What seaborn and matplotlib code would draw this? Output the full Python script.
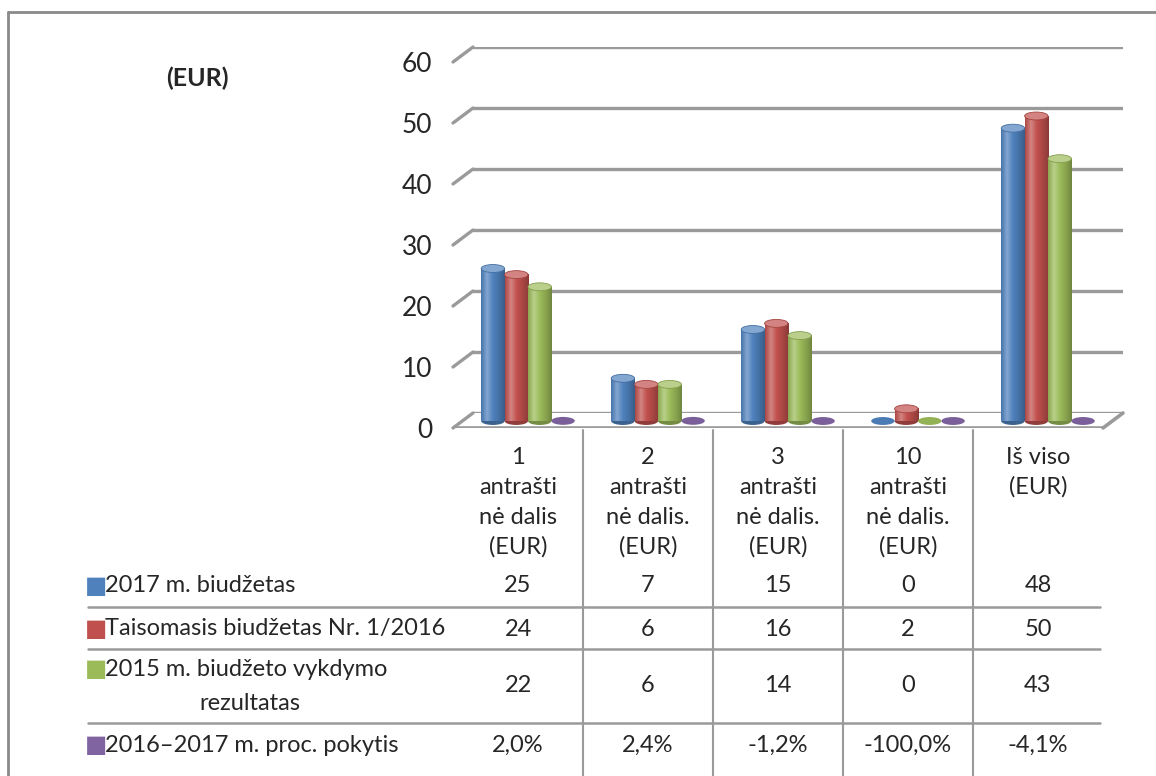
import numpy as np
import pandas as pd
import matplotlib
matplotlib.use("Agg")
import matplotlib.pyplot as plt
import matplotlib.transforms as mtransforms
import seaborn as sns
from matplotlib.patches import Ellipse, ConnectionPatch
from matplotlib.colors import LinearSegmentedColormap, to_rgb

# duomenys
categories = ["1\nantrašti\nnė dalis\n(EUR)",
              "2\nantrašti\nnė dalis.\n(EUR)",
              "3\nantrašti\nnė dalis.\n(EUR)",
              "10\nantrašti\nnė dalis.\n(EUR)",
              "Iš viso\n(EUR)"]
series = ["2017 m. biudžetas",
          "Taisomasis biudžetas Nr. 1/2016",
          "2015 m. biudžeto vykdymo\nrezultatas",
          "2016–2017 m. proc. pokytis"]
biudzetas_2017 = [25, 7, 15, 0, 48]
taisomasis_2016 = [24, 6, 16, 2, 50]
rezultatas_2015 = [22, 6, 14, 0, 43]
pokytis_proc = [2.0, 2.4, -1.2, -100.0, -4.1]
yticks = [0, 10, 20, 30, 40, 50, 60]
colors = ["#4F81BD", "#C0504D", "#9BBB59", "#8064A2"]
grid_color = "#9a9a9a"

sns.set_style("white")
plt.rcParams["font.family"] = ["Lato", "DejaVu Sans"]

W, H = 1156, 776
fig = plt.figure(figsize=(W / 100, H / 100), dpi=100)


def px_rect(left, base, width, height):
    # pikseliai (y zemyn) -> figuros dalys
    return [left / W, (H - base) / H, width / W, height / H]


# galine plokstuma (tinklelis), vidurine (stulpeliai), priekine (zymes)
bg = fig.add_axes(px_rect(473, 413, 650, 366))
ax = fig.add_axes(px_rect(463, 421, 650, 366))
fr = fig.add_axes(px_rect(453, 428, 650, 366))
ov = fig.add_axes([0, 0, 1, 1], zorder=-5)
ov.set_xlim(0, W)
ov.set_ylim(H, 0)
ov.axis("off")

for a in (bg, ax, fr):
    a.set_xlim(-0.5, len(categories) - 0.5)
    a.set_ylim(0, 60)
    a.patch.set_alpha(0)
    sns.despine(ax=a, left=True, bottom=True)
    a.set_xticks([])

bg.set_yticks(yticks)
bg.set_yticklabels([])
bg.tick_params(axis="y", length=0)
for v in yticks:
    bg.axhline(v, color=grid_color, lw=2.4, zorder=0)
    con = ConnectionPatch(xyA=(-0.5, v), coordsA=fr.transData,
                          xyB=(-0.5, v), coordsB=bg.transData,
                          color=grid_color, lw=2.4)
    fig.add_artist(con)

# grindys
fr.axhline(0, color=grid_color, lw=2.6)
fig.add_artist(ConnectionPatch(xyA=(len(categories) - 0.5, 0), coordsA=fr.transData,
                               xyB=(len(categories) - 0.5, 0), coordsB=bg.transData,
                               color=grid_color, lw=2.6))

fr.set_yticks(yticks)
fr.set_yticklabels([str(v) for v in yticks], fontsize=19)
fr.tick_params(axis="y", length=0, pad=15)

# stulpeliai
df = pd.DataFrame({
    "kategorija": np.tile(categories, 4),
    "serija": np.repeat(series, len(categories)),
    "reiksme": biudzetas_2017 + taisomasis_2016 + rezultatas_2015
               + [p / 100 for p in pokytis_proc],
})
sns.barplot(data=df, x="kategorija", y="reiksme", hue="serija", palette=colors,
            saturation=1, width=0.72, legend=False, ax=ax)
ax.set_xlabel("")
ax.set_ylabel("")
ax.set_yticks([])
ax.set_xticks([])

cap_h = 1.3
for cont, col in zip(ax.containers, colors):
    c = np.array(to_rgb(col))
    light = c + (1 - c) * 0.3
    cmap = LinearSegmentedColormap.from_list(
        "cyl", [c * 0.9, light, c, c * 0.88, c * 0.72])
    for patch in cont:
        x0, w, h = patch.get_x(), patch.get_width(), patch.get_height()
        top = max(h, 0)
        if h > 0.05:
            ax.add_patch(Ellipse((x0 + w / 2, 0), w, cap_h, facecolor=c * 0.75,
                                 edgecolor="none", clip_on=False, zorder=2))
            ax.imshow(np.linspace(0, 1, 60)[None, :], extent=(x0, x0 + w, 0, h),
                      cmap=cmap, aspect="auto", zorder=3)
            ax.add_patch(Ellipse((x0 + w / 2, top), w, cap_h, facecolor=light,
                                 edgecolor=c * 0.85, lw=0.6, clip_on=False, zorder=4))
        else:
            ax.add_patch(Ellipse((x0 + w / 2, top), w, cap_h, facecolor=c * 0.95,
                                 edgecolor="none", clip_on=False, zorder=4))
        patch.set_visible(False)
ax.set_xlim(-0.5, len(categories) - 0.5)
ax.set_ylim(0, 60)

# lentele
tx = mtransforms.blended_transform_factory(fr.transData, ov.transData)
line_col = "#9a9a9a"
fs = 17
for i, cat in enumerate(categories):
    for k, part in enumerate(cat.split("\n")):
        ov.text(i, 457 + 30 * k, part, transform=tx, ha="center", va="center",
                fontsize=fs)
for i in range(len(categories) - 1):
    ov.plot([i + 0.5, i + 0.5], [430, H], transform=tx, color=line_col, lw=1.5)

row_y = [586, 629, 686, 745]
line_y = [607, 649, 723]
for y in line_y:
    ov.plot([88, 1100], [y, y], color=line_col, lw=1.8)

table_vals = [[str(v) for v in biudzetas_2017],
              [str(v) for v in taisomasis_2016],
              [str(v) for v in rezultatas_2015],
              [f"{p:.1f}%".replace(".", ",") for p in pokytis_proc]]
for r, (name, col, vals) in enumerate(zip(series, colors, table_vals)):
    parts = name.split("\n")
    y = row_y[r]
    if len(parts) == 1:
        ov.text(105, y, parts[0], ha="left", va="center", fontsize=fs)
        sq_y = y
    else:
        ov.text(105, 669, parts[0], ha="left", va="center", fontsize=fs)
        ov.text(250, 703, parts[1], ha="center", va="center", fontsize=fs)
        sq_y = 669
    ov.text(96, sq_y, "■", ha="center", va="center", fontsize=fs, color=col,
            family="DejaVu Sans")
    for i, v in enumerate(vals):
        ov.text(i, y, v, transform=tx, ha="center", va="center", fontsize=fs)

ov.text(197, 78, "(EUR)", ha="center", va="center", fontsize=18, fontweight="bold")

# remelis
ov.plot([8, 8], [H, 12], color="#8a8a8a", lw=2)
ov.plot([8, W], [12, 12], color="#8a8a8a", lw=2)

fig.savefig("out.png", dpi=100)
